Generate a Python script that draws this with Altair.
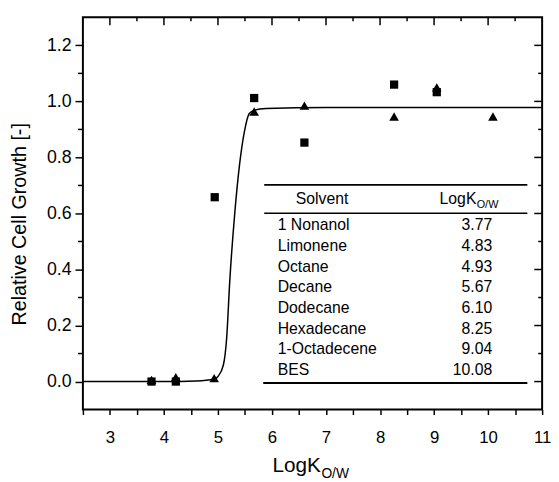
import altair as alt
import pandas as pd

# ---- data ----
solvents = ["1 Nonanol", "Limonene", "Octane", "Decane", "Dodecane",
            "Hexadecane", "1-Octadecene", "BES"]
logk_labels = ["3.77", "4.83", "4.93", "5.67", "6.10", "8.25", "9.04", "10.08"]

sq_x = [3.77, 4.22, 4.94, 5.67, 6.60, 8.26, 9.05]
sq_y = [0.000, 0.000, 0.658, 1.012, 0.853, 1.060, 1.033]

tri_x = [3.77, 4.22, 4.93, 5.67, 6.60, 8.26, 9.05, 10.09]
tri_y = [0.006, 0.016, 0.012, 0.964, 0.985, 0.946, 1.050, 0.946]

curve_x = [2.5, 4.0, 4.6, 4.93, 5.00, 5.10, 5.16, 5.22, 5.31, 5.40,
           5.49, 5.58, 5.675, 5.89, 7.0, 11.0]
curve_y = [0.0, 0.0, 0.002, 0.008, 0.018, 0.059, 0.153, 0.364, 0.599, 0.775,
           0.893, 0.957, 0.969, 0.975, 0.978, 0.978]

x_ticks = [2.5, 3, 3.5, 4, 4.5, 5, 5.5, 6, 6.5, 7, 7.5, 8, 8.5, 9, 9.5, 10, 10.5, 11]
x_major = [3, 4, 5, 6, 7, 8, 9, 10]
x_minor = [3.5, 4.5, 5.5, 6.5, 7.5, 8.5, 9.5, 10.5]
y_major = [0.0, 0.2, 0.4, 0.6, 0.8, 1.0, 1.2]
y_minor = [0.1, 0.3, 0.5, 0.7, 0.9, 1.1]

FONT = "Liberation Sans"
W, H = 466, 398

xs = alt.Scale(domain=[2.5, 11], nice=False, zero=False)
ys = alt.Scale(domain=[-0.1, 1.3], nice=False, zero=False)

x_axis = alt.Axis(values=x_ticks, format=".1f",
                  labelExpr="datum.value % 1 == 0 ? format(datum.value, 'd') : ''",
                  tickSize=5, tickWidth=1.5, tickColor="black", domain=False, grid=False,
                  labelFontSize=17, labelFont=FONT, labelColor="black", labelPadding=15,
                  labelFlush=False, labelOverlap=False, title=None)
y_axis = alt.Axis(values=y_major, format=".1f", tickSize=8, tickWidth=1.5,
                  tickColor="black", domain=False, grid=False, labelFontSize=18,
                  labelFont=FONT, labelColor="black", labelPadding=4,
                  labelOverlap=False, labelFlush=False, title=None)


def X(f):
    return alt.X(f, type="quantitative", scale=xs, axis=x_axis)


def Y(f):
    return alt.Y(f, type="quantitative", scale=ys, axis=y_axis)


one = pd.DataFrame({"a": [0]})

curve = alt.Chart(pd.DataFrame({"x": curve_x, "y": curve_y})).mark_line(
    color="black", strokeWidth=1.5, interpolate="monotone").encode(x=X("x"), y=Y("y"))

squares = alt.Chart(pd.DataFrame({"x": sq_x, "y": sq_y})).mark_point(
    shape="square", filled=True, size=70, color="black", opacity=1).encode(x=X("x"), y=Y("y"))

triangles = alt.Chart(pd.DataFrame({"x": tri_x, "y": tri_y})).mark_point(
    shape="triangle-up", filled=True, size=95, color="black", opacity=1).encode(x=X("x"), y=Y("y"))

# extra ticks (inward on top/right, minor outward on left)
top_major = alt.Chart(pd.DataFrame({"t": x_major})).mark_rule(color="black", strokeWidth=1.5).encode(
    x=X("t"), y=alt.value(0), y2=alt.value(8))
top_minor = alt.Chart(pd.DataFrame({"t": x_minor})).mark_rule(color="black", strokeWidth=1.5).encode(
    x=X("t"), y=alt.value(0), y2=alt.value(4))
right_major = alt.Chart(pd.DataFrame({"t": y_major})).mark_rule(color="black", strokeWidth=1.5).encode(
    y=Y("t"), x=alt.value(W), x2=alt.value(W - 8))
right_minor = alt.Chart(pd.DataFrame({"t": y_minor})).mark_rule(color="black", strokeWidth=1.5).encode(
    y=Y("t"), x=alt.value(W), x2=alt.value(W - 4))
left_minor = alt.Chart(pd.DataFrame({"t": y_minor})).mark_rule(color="black", strokeWidth=1.5).encode(
    y=Y("t"), x=alt.value(-5), x2=alt.value(0))

# table
line_top = alt.Chart(one).mark_rule(color="black", strokeWidth=2).encode(
    x=alt.value(184), x2=alt.value(451), y=alt.value(170))
line_mid = alt.Chart(one).mark_rule(color="black", strokeWidth=1.5).encode(
    x=alt.value(184), x2=alt.value(451), y=alt.value(198.7))
line_bot = alt.Chart(one).mark_rule(color="black", strokeWidth=2).encode(
    x=alt.value(183), x2=alt.value(451), y=alt.value(371))

hdr_solvent = alt.Chart(one).mark_text(text="Solvent", font=FONT, fontSize=16, align="center",
                                       baseline="alphabetic", color="black").encode(
    x=alt.value(242.7), y=alt.value(189.3))
hdr_logk = alt.Chart(one).mark_text(text="LogK", font=FONT, fontSize=16, align="right",
                                    baseline="alphabetic", color="black").encode(
    x=alt.value(399.3), y=alt.value(189.3))
hdr_sub = alt.Chart(one).mark_text(text="O/W", font=FONT, fontSize=11, align="left",
                                   baseline="alphabetic", color="black").encode(
    x=alt.value(399.6), y=alt.value(193.5))

rows = pd.DataFrame({"solvent": solvents, "logk": logk_labels, "i": list(range(len(solvents)))})
row_base = alt.Chart(rows).transform_calculate(
    ny=f"1.3 - (216 + 21 * datum.i) / {H} * 1.4",
    nx=f"2.5 + 197.7 / {W} * 8.5",
    vx=f"2.5 + 415.3 / {W} * 8.5",
)
row_names = row_base.mark_text(font=FONT, fontSize=16, align="left", baseline="alphabetic",
                               color="black").encode(x=X("nx"), y=Y("ny"), text="solvent:N")
row_vals = row_base.mark_text(font=FONT, fontSize=16, align="right", baseline="alphabetic",
                              color="black").encode(x=X("vx"), y=Y("ny"), text="logk:N")

# axis titles
y_title = alt.Chart(one).mark_text(text="Relative Cell Growth [-]", font=FONT, fontSize=20,
                                   angle=270, align="center", baseline="alphabetic",
                                   color="black").encode(x=alt.value(-58), y=alt.value(210))
x_title = alt.Chart(one).mark_text(text="LogK", font=FONT, fontSize=21, align="right",
                                   baseline="alphabetic", color="black").encode(
    x=alt.value(241.5), y=alt.value(461))
x_sub = alt.Chart(one).mark_text(text="O/W", font=FONT, fontSize=14, align="left",
                                 baseline="alphabetic", color="black").encode(
    x=alt.value(242), y=alt.value(467))

chart = alt.layer(
    curve, squares, triangles,
    top_major, top_minor, right_major, right_minor, left_minor,
    line_top, line_mid, line_bot, hdr_solvent, hdr_logk, hdr_sub, row_names, row_vals,
    y_title, x_title, x_sub,
).properties(
    width=W, height=H,
    autosize=alt.AutoSizeParams(type="none"),
    padding={"left": 76, "top": 6, "right": 9, "bottom": 70},
    background="white",
).configure_view(stroke="black", strokeWidth=2)

chart.save("out.html", embed_options={"renderer": "svg", "actions": False})
